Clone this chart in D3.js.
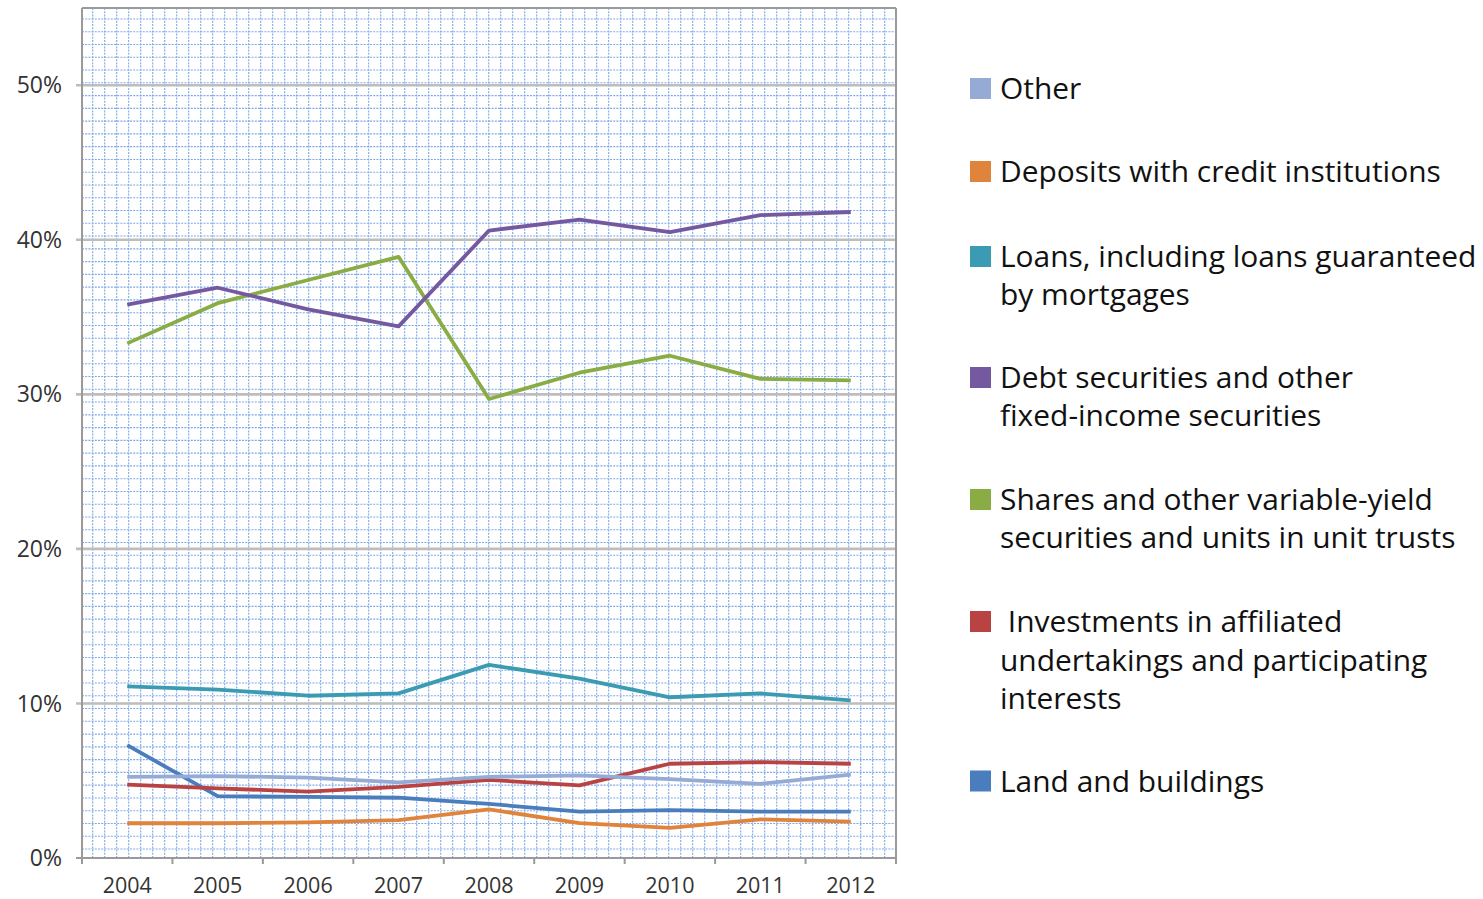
<!DOCTYPE html>
<html>
<head>
<meta charset="utf-8">
<script src="https://cdn.jsdelivr.net/npm/d3@7"></script>
<style>
  html, body { margin: 0; padding: 0; background: #fff; }
  svg { display: block; }
  text { font-family: "Open Sans", "Noto Sans", sans-serif; }
</style>
</head>
<body>
<svg id="chart" width="1483" height="899"></svg>
<script>
// ---- data ----
const years = ["2004","2005","2006","2007","2008","2009","2010","2011","2012"];
const yTicks = [0, 10, 20, 30, 40, 50];

const otherVals       = [5.25, 5.3, 5.2, 4.9, 5.25, 5.35, 5.1, 4.8, 5.4];
const depositsVals    = [2.25, 2.25, 2.3, 2.45, 3.15, 2.25, 1.95, 2.5, 2.35];
const loansVals       = [11.1, 10.9, 10.5, 10.65, 12.5, 11.6, 10.4, 10.65, 10.2];
const debtVals        = [35.8, 36.9, 35.5, 34.4, 40.6, 41.3, 40.5, 41.6, 41.8];
const sharesVals      = [33.3, 35.9, 37.4, 38.9, 29.7, 31.4, 32.5, 31.0, 30.9];
const investmentsVals = [4.75, 4.5, 4.3, 4.6, 5.05, 4.7, 6.1, 6.2, 6.1];
const landVals        = [7.3, 4.0, 3.95, 3.9, 3.5, 3.0, 3.1, 3.0, 3.0];

const seriesNames = [
  "Other",
  "Deposits with credit institutions",
  "Loans, including loans guaranteed by mortgages",
  "Debt securities and other fixed-income securities",
  "Shares and other variable-yield securities and units in unit trusts",
  " Investments in affiliated undertakings and participating interests",
  "Land and buildings"
];
const legendLines = [
  ["Other"],
  ["Deposits with credit institutions"],
  ["Loans, including loans guaranteed", "by mortgages"],
  ["Debt securities and other", "fixed-income securities"],
  ["Shares and other variable-yield", "securities and units in unit trusts"],
  ["\u00a0Investments in affiliated", "undertakings and participating", "interests"],
  ["Land and buildings"]
];
const seriesColors = ["#95abd6", "#e0843b", "#3a9bb2", "#7459a0", "#8aac45", "#b84342", "#4a7dbd"];
const seriesValues = [otherVals, depositsVals, loansVals, debtVals, sharesVals, investmentsVals, landVals];

// ---- layout ----
const svg = d3.select("#chart");
const L = 82, R = 896, T = 8, B = 858;

const x = d3.scalePoint().domain(years).range([L, R]).padding(0.5);
const y = d3.scaleLinear().domain([0, 55]).range([B, T]);

// background dotted grid (pattern texture)
const bg = svg.append("g");
for (let gx = 92.7; gx < R; gx += 12) {
  bg.append("line").attr("x1", gx).attr("x2", gx).attr("y1", T).attr("y2", B)
    .attr("stroke", "#7ea8e6").attr("stroke-width", 1.1).attr("stroke-dasharray", "2,1.2");
}
for (let gy = 6.2; gy < B; gy += 12.77) {
  if (gy <= T) continue;
  bg.append("line").attr("x1", L).attr("x2", R).attr("y1", gy).attr("y2", gy)
    .attr("stroke", "#7ea8e6").attr("stroke-width", 1.1).attr("stroke-dasharray", "2,1.2");
}

// major gridlines
svg.append("g").selectAll("line").data(yTicks.filter(d => d > 0)).join("line")
  .attr("x1", L - 6).attr("x2", R)
  .attr("y1", d => y(d)).attr("y2", d => y(d))
  .attr("stroke", "#bdbdbd").attr("stroke-width", 2.6);

// frame
const frame = svg.append("g").attr("stroke", "#9a9a9a").attr("stroke-width", 2).attr("fill", "none");
frame.append("line").attr("x1", L).attr("x2", R).attr("y1", T).attr("y2", T);
frame.append("line").attr("x1", L).attr("x2", L).attr("y1", T).attr("y2", B);
frame.append("line").attr("x1", R).attr("x2", R).attr("y1", T).attr("y2", B + 6);
frame.append("line").attr("x1", L - 6).attr("x2", R).attr("y1", B).attr("y2", B);

// x ticks at category boundaries
const step = x.step();
svg.append("g").selectAll("line").data(d3.range(years.length + 1)).join("line")
  .attr("x1", i => L + i * step).attr("x2", i => L + i * step)
  .attr("y1", B).attr("y2", B + 6)
  .attr("stroke", "#9a9a9a").attr("stroke-width", 2);

// y tick labels
svg.append("g").selectAll("text").data(yTicks).join("text")
  .attr("x", 62).attr("y", d => y(d)).attr("dy", "0.35em")
  .attr("text-anchor", "end").attr("font-size", 23).attr("fill", "#333")
  .text(d => d + "%");

// x labels
svg.append("g").selectAll("text").data(years).join("text")
  .attr("x", d => x(d)).attr("y", 893)
  .attr("text-anchor", "middle").attr("font-size", 21.5).attr("fill", "#333")
  .text(d => d);

// lines
const line = d3.line().x((d, i) => x(years[i])).y(d => y(d));
const drawOrder = [6, 5, 4, 3, 2, 1, 0];
svg.append("g").selectAll("path").data(drawOrder).join("path")
  .attr("d", k => line(seriesValues[k]))
  .attr("fill", "none")
  .attr("stroke", k => seriesColors[k])
  .attr("stroke-width", 3.8)
  .attr("stroke-linejoin", "round")
  .attr("stroke-linecap", "butt");

// legend
const legendBaselines = [[99], [182], [267, 305], [388, 426], [510, 548], [632, 670.5, 709], [791.5]];
const lg = svg.append("g");
const probe = lg.append("text").attr("font-size", 100).text("Deposits with credit institutions");
const w100 = probe.node().getComputedTextLength();
probe.remove();
const fs = 441 / w100 * 100;

legendLines.forEach((lines, i) => {
  const g = lg.append("g");
  const b0 = legendBaselines[i][0];
  g.append("rect").attr("x", 970).attr("y", b0 - 21).attr("width", 21).attr("height", 21)
    .attr("fill", seriesColors[i]);
  lines.forEach((t, j) => {
    g.append("text").attr("x", 1000).attr("y", legendBaselines[i][j])
      .attr("font-size", fs).attr("fill", "#111").text(t);
  });
});
</script>
</body>
</html>
